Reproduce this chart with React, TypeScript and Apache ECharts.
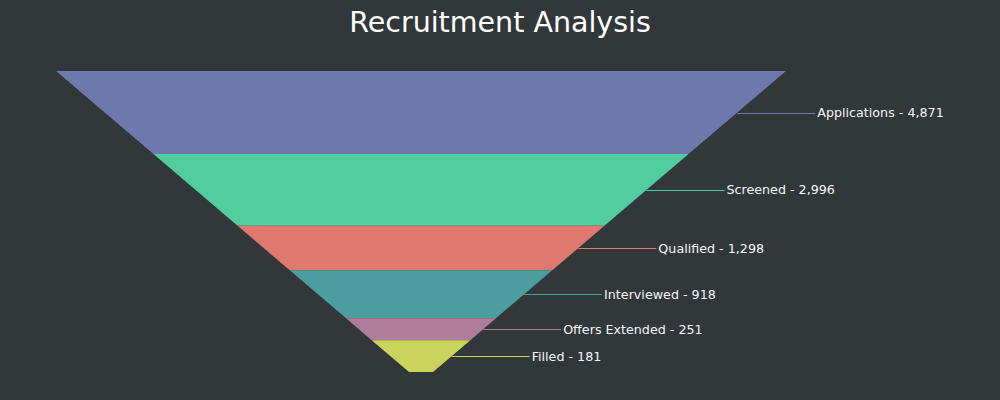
import React, { useEffect, useRef } from "react";
import * as echarts from "echarts";

const categories = ["Applications", "Screened", "Qualified", "Interviewed", "Offers Extended", "Filled"];
const values = [4871, 2996, 1298, 918, 251, 181];
const colors = ["#6D78AD", "#51CDA0", "#DF7970", "#4C9CA0", "#AE7D99", "#C9D45C"];

const FONT = "'DejaVu Sans', sans-serif";

export default function App() {
  const ref = useRef<HTMLDivElement>(null);
  useEffect(() => {
    const chart = echarts.init(ref.current!, undefined, { renderer: "svg" });
    const total = values.reduce((a, b) => a + b, 0);
    // funnel geometry (area-proportional sections)
    const top = 71, bottom = 372, cx = 421, topW = 730, botW = 24;
    const H = bottom - top;
    const s = (topW - botW) / H;
    const totalArea = ((topW + botW) / 2) * H;
    const tAt = (A: number) => (topW - Math.sqrt(topW * topW - 2 * s * A)) / s;
    const cum: number[] = [0];
    values.forEach((v, i) => cum.push(cum[i] + v));
    const widthAt = (t: number) => topW - s * t;

    chart.setOption({
      animation: false,
      backgroundColor: "#32373A",
      title: {
        text: "Recruitment Analysis",
        left: "center",
        top: 3,
        textStyle: { color: "#FFFFFF", fontSize: 28.5, fontWeight: "normal", fontFamily: FONT },
      },
      series: [
        {
          type: "custom",
          coordinateSystem: "none",
          data: values.map((v, i) => [i, v]),
          renderItem: (params: any, api: any) => {
            const i = params.dataIndex;
            const t0 = tAt((cum[i] / total) * totalArea);
            const t1 = i === values.length - 1 ? H : tAt((cum[i + 1] / total) * totalArea);
            const w0 = widthAt(t0), w1 = widthAt(t1);
            const y0 = top + t0, y1 = top + t1;
            const tm = (t0 + t1) / 2;
            const ym = top + tm;
            const xe = cx + widthAt(tm) / 2;
            const xl = xe + 78;
            return {
              type: "group",
              children: [
                {
                  type: "polygon",
                  shape: {
                    points: [
                      [cx - w0 / 2, y0],
                      [cx + w0 / 2, y0],
                      [cx + w1 / 2, y1],
                      [cx - w1 / 2, y1],
                    ],
                  },
                  style: { fill: colors[i] },
                },
                {
                  type: "line",
                  shape: { x1: xe, y1: Math.round(ym) + 0.5, x2: xl, y2: Math.round(ym) + 0.5 },
                  style: { stroke: colors[i], lineWidth: 1 },
                },
                {
                  type: "text",
                  x: xl + 2,
                  y: ym,
                  style: {
                    text: categories[i] + " - " + values[i].toLocaleString("en-US"),
                    fill: "#F5F5F5",
                    font: "12.7px " + FONT,
                    verticalAlign: "middle",
                    align: "left",
                  },
                },
              ],
            };
          },
        },
      ],
    });
    return () => chart.dispose();
  }, []);
  return <div ref={ref} style={{ width: 1000, height: 400, position: "absolute", left: 0, top: 0 }} />;
}
